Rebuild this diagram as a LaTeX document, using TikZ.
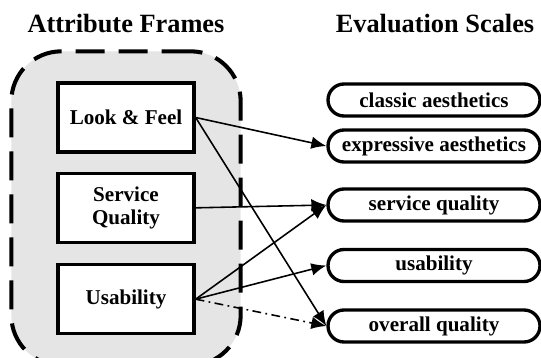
\documentclass[tikz,border=0pt]{standalone}
\usepackage{fontspec}
\setmainfont{Liberation Serif}
\usetikzlibrary{shapes,arrows.meta,positioning,fit,backgrounds}
\tikzset{
  frame/.style = {
    rectangle,
    draw=black,
    line width=1.9pt,
    fill=white,
    minimum width=2.72cm,
    minimum height=1.38cm,
    align=center,
    font=\fontsize{12}{13.5}\selectfont\bfseries
  },
  scale_box/.style = {
    rounded rectangle,
    draw=black,
    line width=1.9pt,
    fill=white,
    minimum width=4.24cm,
    minimum height=0.64cm,
    inner sep=0pt,
    font=\fontsize{12}{13.5}\selectfont\bfseries
  },
  container/.style = {
    draw=black,
    fill=black!10,
    line width=2.3pt,
    rounded corners=1cm,
    dash pattern=on 0.58cm off 0.28cm,
    inner xsep=0.9cm,
    inner ysep=0.6cm
  },
  heading/.style = {
    font=\fontsize{15}{17}\selectfont\bfseries
  },
  arrow/.style = {
    line width=0.9pt,
    -{Latex[length=3mm,width=2.5mm]}
  },
  dotflow/.style = {
    arrow,
    dash pattern=on 5pt off 2.5pt on 1pt off 2.5pt
  }
}

\begin{document}
\begin{tikzpicture}
\useasboundingbox (0,0) rectangle (10.82,-7.16);

% Ueberschriften
\node[heading] (head_frames) at (2.52,-0.48) {Attribute Frames};
\node[heading] (head_scales) at (8.70,-0.48) {Evaluation Scales};

% Attribute Frames
\node[frame] (look) at (2.52,-2.35) {Look \& Feel};
\node[frame, below=0.36cm of look] (service) {Service\\Quality};
\node[frame, below=0.38cm of service] (usab) {Usability};

% grauer Rahmen dahinter
\begin{scope}[on background layer]
\node[container, fit=(look) (usab)] (frames) {};
\end{scope}

% Evaluation Scales
\node[scale_box] (classic) at (8.68,-2.00) {classic aesthetics};
\node[scale_box] (expressive) at (8.68,-2.92) {expressive aesthetics};
\node[scale_box] (serv_q) at (8.68,-4.10) {service quality};
\node[scale_box] (usab_s) at (8.68,-5.31) {usability};
\node[scale_box] (overall) at (8.68,-6.52) {overall quality};

% Verbindungen
\draw[arrow] (look.east) -- (expressive.west);
\draw[arrow] (look.east) -- (overall.west);
\draw[arrow] (service.east) -- (serv_q.west);
\draw[arrow] (usab.east) -- (serv_q.west);
\draw[arrow] (usab.east) -- (usab_s.west);
\draw[dotflow] (usab.east) -- (overall.west);

\end{tikzpicture}
\end{document}
